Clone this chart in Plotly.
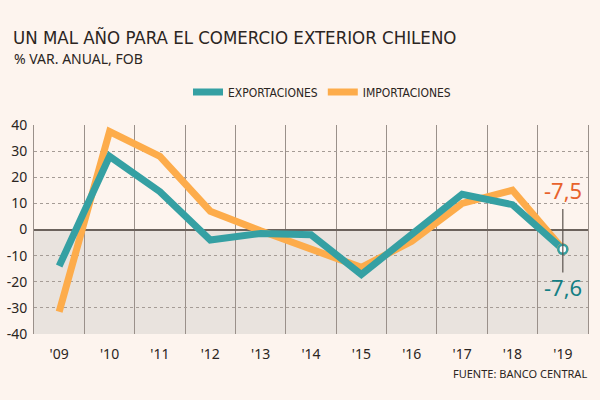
import plotly.graph_objects as go

years = ["'09", "'10", "'11", "'12", "'13", "'14", "'15", "'16", "'17", "'18", "'19"]
exportaciones = [-14, 28, 14.5, -4, -1.5, -2, -17.2, -2, 13.5, 9.5, -7.6]
importaciones = [-31.5, 37.5, 28, 7, -0.5, -7.8, -14.5, -4.5, 10, 15, -7.5]
y_ticks = [40, 30, 20, 10, 0, -10, -20, -30, -40]
y_ticktext = ["40", "30", "20", "10", "0", "-10", "-20", "-30", "-40"]

TEAL = "#35a0a3"
ORANGE = "#fdac4b"
TEAL_TXT = "#147f84"
ORANGE_TXT = "#e8622c"
BG = "#fdf4ee"
COND = "DejaVu Sans Condensed, Roboto, Noto Sans"
TICKF = "Noto Sans, Open Sans"
TXT = "#2b2522"

L, R, T, B = 34, 12, 125, 66
PW, PH = 600 - L - R, 400 - T - B


def px_x(px):
    return (px - L) / PW


def px_y(py):
    return (400 - B - py) / PH


fig = go.Figure()
fig.add_trace(go.Scatter(x=years, y=importaciones, mode="lines", name="IMPORTACIONES",
                         line=dict(color=ORANGE, width=7), legendrank=2))
fig.add_trace(go.Scatter(x=years, y=exportaciones, mode="lines", name="EXPORTACIONES",
                         line=dict(color=TEAL, width=7), legendrank=1))
fig.add_trace(go.Scatter(x=[years[-1]], y=[importaciones[-1]], mode="markers", showlegend=False,
                         marker=dict(color="white", size=9, line=dict(color=ORANGE, width=2.5))))
fig.add_trace(go.Scatter(x=[years[-1]], y=[exportaciones[-1]], mode="markers", showlegend=False,
                         marker=dict(color="white", size=9, line=dict(color=TEAL, width=2.5))))

# shaded negative region
fig.add_shape(type="rect", xref="paper", yref="y", x0=0, x1=1, y0=-40, y1=0,
              fillcolor="#e9e3de", line_width=0, layer="below")
# vertical connector at '19
fig.add_shape(type="line", xref="x", yref="y", x0=years[-1], x1=years[-1], y0=7.8, y1=-16.5,
              line=dict(color="#5a524d", width=1.2))

fig.add_annotation(x=years[-1], y=15, xref="x", yref="y",
                   text=f"{importaciones[-1]:.1f}".replace(".", ","), showarrow=False,
                   font=dict(family=TICKF, size=22, color=ORANGE_TXT))
fig.add_annotation(x=years[-1], y=-22, xref="x", yref="y",
                   text=f"{exportaciones[-1]:.1f}".replace(".", ","), showarrow=False,
                   font=dict(family=TICKF, size=22, color=TEAL_TXT))
fig.add_annotation(x=px_x(11), y=px_y(37), xref="paper", yref="paper", xanchor="left", yanchor="middle",
                   text="UN MAL AÑO PARA EL COMERCIO EXTERIOR CHILENO", showarrow=False,
                   font=dict(family=COND, size=18.5, color=TXT))
fig.add_annotation(x=px_x(12), y=px_y(59), xref="paper", yref="paper", xanchor="left", yanchor="middle",
                   text="% VAR. ANUAL, FOB", showarrow=False,
                   font=dict(family=TICKF, size=14, color=TXT))
fig.add_annotation(x=px_x(589), y=px_y(373), xref="paper", yref="paper", xanchor="right", yanchor="middle",
                   text="FUENTE: BANCO CENTRAL", showarrow=False,
                   font=dict(family=TICKF, size=11, color=TXT))

fig.update_layout(
    width=600, height=400,
    margin=dict(l=L, r=R, t=T, b=B, autoexpand=False),
    paper_bgcolor=BG, plot_bgcolor=BG,
    showlegend=True,
    legend=dict(orientation="h", x=px_x(322), xanchor="center", y=px_y(92), yanchor="middle",
                font=dict(family=COND, size=12, color=TXT),
                bgcolor="rgba(0,0,0,0)", itemwidth=30, traceorder="normal"),
    xaxis=dict(type="category", range=[-0.5, 10.5], tickson="boundaries",
               showgrid=True, gridcolor="#9a908a", gridwidth=1, automargin=False,
               ticks="", tickfont=dict(family=TICKF, size=14, color=TXT),
               ticklabelstandoff=10,
               zeroline=False, showline=False),
    yaxis=dict(range=[-40, 40], tickvals=y_ticks, ticktext=y_ticktext, automargin=False,
               showgrid=True, gridcolor="#a59c96", griddash="dot", gridwidth=1,
               zeroline=True, zerolinecolor="#6b625c", zerolinewidth=1.5,
               showline=True, mirror=True, linecolor="#9a908a", linewidth=1,
               ticks="", tickfont=dict(family=TICKF, size=14, color=TXT),
               ticklabelstandoff=3),
)

fig.write_html("out.html")
